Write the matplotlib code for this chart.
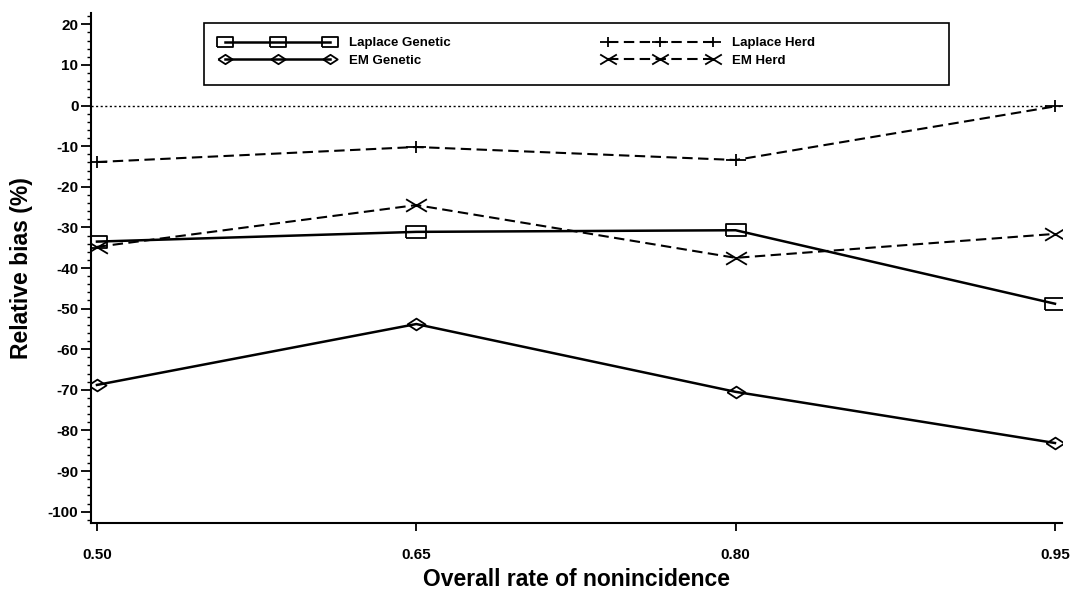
import numpy as np
import matplotlib
matplotlib.use('Agg')
import matplotlib.pyplot as plt
from matplotlib.path import Path
from matplotlib.patches import Rectangle
from matplotlib.legend_handler import HandlerLine2D
from matplotlib.ticker import MultipleLocator

plt.rcParams['font.family'] = ['Liberation Sans', 'DejaVu Sans']
plt.rcParams['axes.unicode_minus'] = False

# data
rates = [0.50, 0.65, 0.80, 0.95]
laplace_genetic = [-33.5, -31.1, -30.7, -48.8]
em_genetic = [-68.8, -53.8, -70.5, -83.1]
laplace_herd = [-13.9, -10.2, -13.4, -0.2]
em_herd = [-34.8, -24.5, -37.5, -31.6]
xticks = [0.50, 0.65, 0.80, 0.95]
xticklabels = ['0.50', '0.65', '0.80', '0.95']
yticks = np.arange(-100, 21, 10)

# wide markers like the original (SAS style)
sq = [(-1, -0.65), (1, -0.65), (1, 0.65), (-1, 0.65), (-1, -0.65)]
dia = [(-1, 0), (0, 0.65), (1, 0), (0, -0.65), (-1, 0)]
cross = Path([(-1, -0.6), (1, 0.6), (-1, 0.6), (1, -0.6)],
             [Path.MOVETO, Path.LINETO, Path.MOVETO, Path.LINETO])
plus = Path([(-1, 0), (1, 0), (0, -0.65), (0, 0.65)],
            [Path.MOVETO, Path.LINETO, Path.MOVETO, Path.LINETO])

fig = plt.figure(figsize=(10.73, 6.04), dpi=100)
ax = fig.add_axes([91/1073, 1-523/604, (1062-91)/1073, (523-13)/604])

ax.axhline(0, color='black', lw=1.0, dashes=(1.5, 1.8))

l1, = ax.plot(rates, laplace_genetic, color='black', lw=1.8, marker=sq, ms=14,
              mfc='none', mec='black', mew=1.3, label='Laplace Genetic')
l2, = ax.plot(rates, em_genetic, color='black', lw=1.8, marker=dia, ms=13,
              mfc='none', mec='black', mew=1.3, label='EM Genetic')
l3, = ax.plot(rates, laplace_herd, color='black', lw=1.5, dashes=(5, 2.6),
              marker=plus, ms=14, mfc='none', mec='black', mew=1.3,
              label='Laplace Herd')
l4, = ax.plot(rates, em_herd, color='black', lw=1.5, dashes=(5, 2.6),
              marker=cross, ms=15, mfc='none', mec='black', mew=1.3,
              label='EM Herd')

ax.set_xlim(0.4972, 0.9533)
ax.set_ylim(-102.8, 22.8)
ax.set_xticks(xticks)
ax.set_xticklabels(xticklabels)
ax.set_yticks(yticks)
ax.yaxis.set_minor_locator(MultipleLocator(2))

for s in ['top', 'right']:
    ax.spines[s].set_visible(False)
for s in ['left', 'bottom']:
    ax.spines[s].set_linewidth(1.5)

ax.tick_params(axis='y', which='major', length=7, width=1.3, pad=2,
               labelsize=11)
ax.tick_params(axis='y', which='minor', length=3, width=1.0)
ax.tick_params(axis='x', which='major', length=6, width=1.3, pad=12,
               labelsize=11)
for lab in ax.get_xticklabels() + ax.get_yticklabels():
    lab.set_fontweight('bold')

ax.set_ylabel('Relative bias (%)', fontsize=16.5, fontweight='bold')
ax.yaxis.set_label_coords(-0.0597, 0.5)
ax.set_xlabel('Overall rate of nonincidence', fontsize=16.5, fontweight='bold')
ax.xaxis.set_label_coords(0.5, -0.088)

hm = {l: HandlerLine2D(numpoints=3, marker_pad=0.6) for l in [l1, l2, l3, l4]}
leg = fig.legend(handles=[l1, l2, l3, l4], ncol=2, loc='upper left',
                 bbox_to_anchor=(217/1073, 1-37/604), frameon=False,
                 borderpad=0, borderaxespad=0, handlelength=9.2,
                 handletextpad=0.8, columnspacing=11.3, labelspacing=0.4,
                 markerscale=0.8, handler_map=hm,
                 prop={'size': 9.5, 'weight': 'bold'})

fig.patches.append(Rectangle((204/1073, 1-85/604), (949-204)/1073, 62/604,
                             transform=fig.transFigure, fill=False,
                             edgecolor='black', lw=1.2))

fig.savefig('out.png', dpi=100)
